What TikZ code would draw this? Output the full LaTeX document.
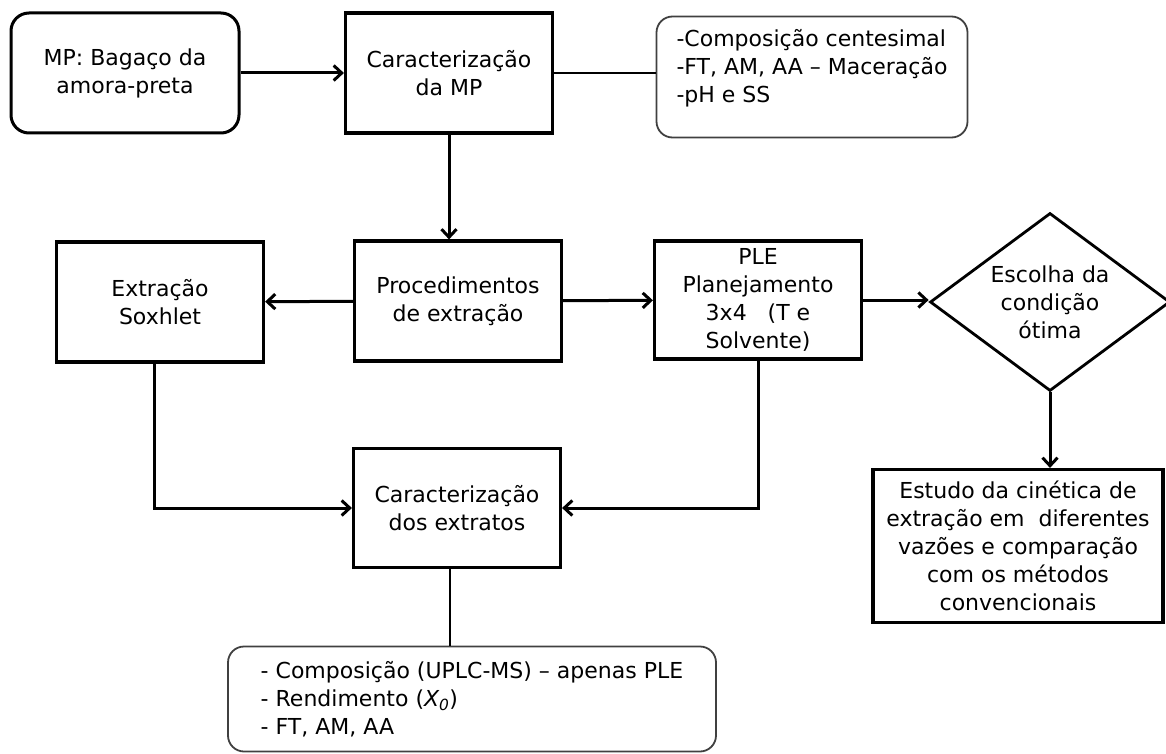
\documentclass[tikz,border=0pt]{standalone}
\usepackage{fontspec}
\setmainfont{DejaVu Sans}
\usetikzlibrary{shapes.geometric,arrows.meta}

\begin{document}
\begin{tikzpicture}[x=1pt,y=-1pt,
    font=\fontsize{22}{28}\selectfont,
    caixa/.style={draw, line width=3.2pt, align=center, minimum width=207pt, minimum height=120pt, inner sep=4pt},
    arred/.style={draw, line width=3pt, rounded corners=18pt, align=center},
    nota/.style={draw=black!75, line width=1.8pt, rounded corners=16pt},
    seta/.style={line width=3pt, -{Straight Barb[length=8pt,width=15pt]}},
    fio/.style={line width=1.5pt}]
  \useasboundingbox (0,0) rectangle (1166,754);
      \node[arred, minimum width=228pt, minimum height=120pt] (MP) at (125,73) {MP: Bagaço da\\amora-preta};
      \node[caixa] (CarMP) at (449,73) {Caracterização\\da MP};
      \node[nota, minimum width=311pt, minimum height=121pt] (Nota) at (812,77) {\begin{tabular}{@{}l@{}}-Composição centesimal\\-FT, AM, AA – Maceração\\-pH e SS\\[16pt]\end{tabular}};
      \node[caixa] (Proc) at (458,301) {Procedimentos\\de extração};
      \node[caixa] (Sox) at (160,302) {Extração\\Soxhlet};
      \node[caixa, minimum height=118pt] (PLE) at (758,300) {PLE\\Planejamento\\3x4\ \ \ (T e\\Solvente)};
      \node[draw, diamond, line width=2.8pt, aspect=1.35, minimum width=240pt, minimum height=178pt, inner sep=0pt, align=center] (Esc) at (1050,302) {Escolha da\\condição\\ótima};
      \node[caixa, minimum width=290pt, minimum height=153pt] (Est) at (1018,546) {Estudo da cinética de\\extração em\ \ diferentes\\vazões e comparação\\com os métodos\\convencionais};
      \node[caixa, minimum height=119pt] (Ext) at (457,508) {Caracterização\\dos extratos};
      \node[nota, minimum width=488pt, minimum height=105pt, align=left] (NotaExt) at (472,699) {- Composição (UPLC-MS) – apenas PLE\\- Rendimento\ (\textit{X\textsubscript{0}})\\- FT, AM, AA};
      \draw[seta] (MP) -- (CarMP);
      \draw[fio] (CarMP.east) -- (CarMP.east -| Nota.west);
      \draw[seta] (CarMP.south) -- (CarMP.south |- Proc.north);
      \draw[seta] (Proc) -- (Sox);
      \draw[seta] (Proc) -- (PLE);
      \draw[seta] (PLE.east) -- (PLE.east -| Esc.west);
      \draw[seta] (Esc.south) -- (Esc.south |- Est.north);
      \draw[seta] ([xshift=-6pt]Sox.south) |- (Ext.west);
      \draw[seta] (PLE.south) |- (Ext.east);
      \draw[fio] ([xshift=-7pt]Ext.south) -- ([xshift=-7pt]Ext.south |- NotaExt.north);
    \end{tikzpicture}
\end{document}
